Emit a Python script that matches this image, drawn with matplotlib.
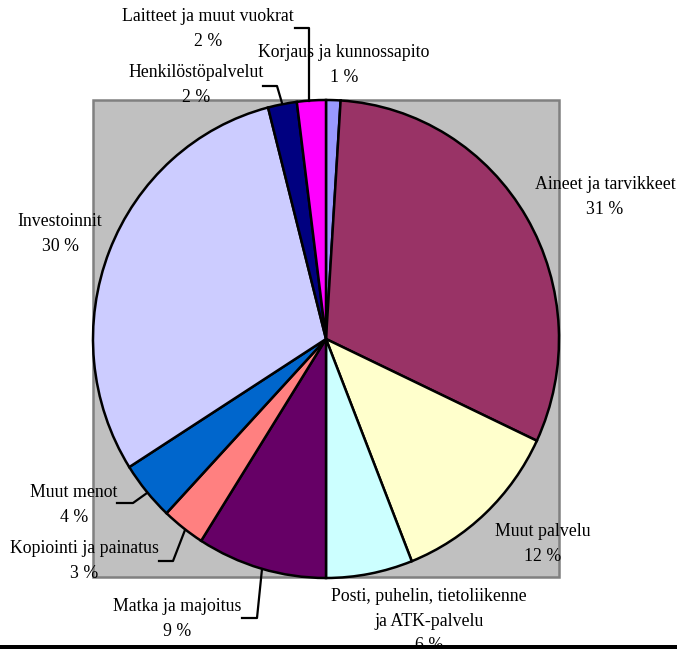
import matplotlib.pyplot as plt
from matplotlib.patches import Rectangle

plt.rcParams['font.family'] = ['Liberation Serif', 'DejaVu Serif']

W, H = 677, 649

labels = ['Korjaus ja kunnossapito', 'Aineet ja tarvikkeet', 'Muut palvelu',
          'Posti, puhelin, tietoliikenne\nja ATK-palvelu', 'Matka ja majoitus',
          'Kopiointi ja painatus', 'Muut menot', 'Investoinnit',
          'Henkilöstöpalvelut', 'Laitteet ja muut vuokrat']
values = [1, 31, 12, 6, 9, 3, 4, 30, 2, 2]
colors = ['#9999FF', '#993366', '#FFFFCC', '#CCFFFF', '#660066',
          '#FF8080', '#0066CC', '#CCCCFF', '#000080', '#FF00FF']

# label block centres (pixels, y from top)
label_pos = [(344, 65), (605, 197), (543, 544), (429, 621), (177, 619),
             (84, 561), (74, 505), (60, 234), (196, 85), (208, 29)]

# leader lines (pixels)
leaders = {
    9: [(295, 28), (309, 28), (309, 101)],
    8: [(263, 86), (277, 86), (282, 103)],
    6: [(117, 503), (133, 503), (147, 493)],
    5: [(159, 561), (173, 561), (185, 530)],
    4: [(242, 618), (257, 618), (262, 569)],
}

fig = plt.figure(figsize=(W / 100, H / 100), dpi=100)

# background / frame axes in pixel coords
bg = fig.add_axes([0, 0, 1, 1])
bg.set_xlim(0, W)
bg.set_ylim(H, 0)
bg.axis('off')
bg.add_patch(Rectangle((93, 100), 466, 477, facecolor='#C0C0C0',
                       edgecolor='#808080', linewidth=1.8))

# pie axes spanning the pie bounds
left, right, top, bottom = 93, 559, 100, 578
pax = fig.add_axes([left / W, (H - bottom) / H, (right - left) / W, (bottom - top) / H])
pax.pie(values, colors=colors, startangle=90, counterclock=False, radius=1,
        wedgeprops=dict(edgecolor='black', linewidth=1.8))
pax.set_aspect('auto')
pax.set_xlim(-1, 1)
pax.set_ylim(-1, 1)
pax.axis('off')

# overlay for texts and lines
ov = fig.add_axes([0, 0, 1, 1])
ov.set_xlim(0, W)
ov.set_ylim(H, 0)
ov.axis('off')
ov.patch.set_alpha(0)

for i, (lab, v) in enumerate(zip(labels, values)):
    x, y = label_pos[i]
    ov.text(x, y, f'{lab}\n{v} %', ha='center', va='center', multialignment='center',
            fontsize=12.8, linespacing=1.55, color='black')

for i, pts in leaders.items():
    xs = [p[0] for p in pts]
    ys = [p[1] for p in pts]
    ov.plot(xs, ys, color='black', linewidth=1.6)

ov.add_patch(Rectangle((0, 645), W, 5, facecolor='black', edgecolor='none', zorder=5))

fig.savefig('out.png', dpi=100)
